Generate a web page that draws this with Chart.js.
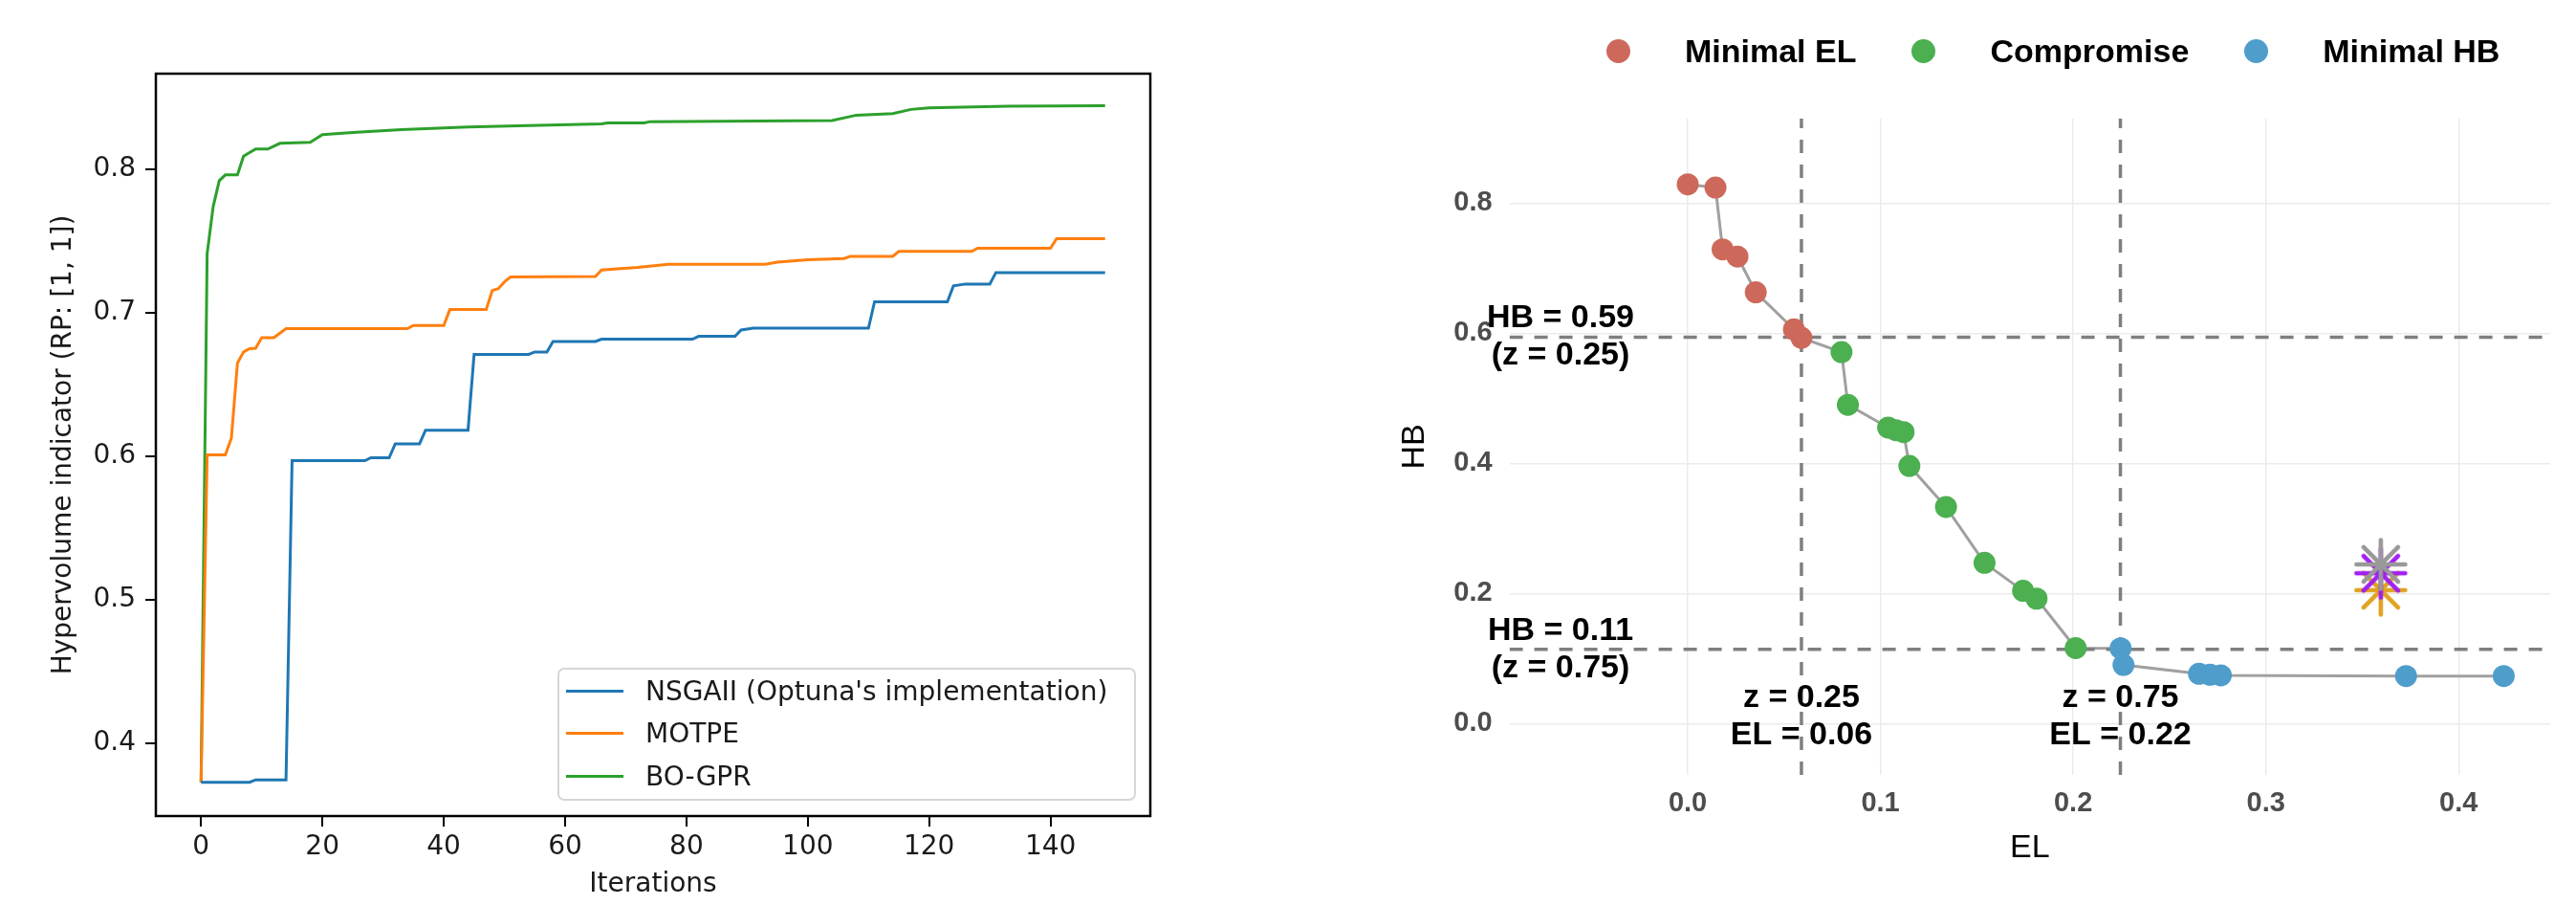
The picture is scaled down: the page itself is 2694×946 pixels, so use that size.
<!DOCTYPE html>
<html>
<head>
<meta charset="utf-8">
<script src="https://cdn.jsdelivr.net/npm/chart.js@4.4.1/dist/chart.umd.min.js"></script>
<style>
  html, body { margin: 0; padding: 0; background: #fff; }
  body { width: 2694px; height: 946px; position: relative; overflow: hidden; }
  #hvChart { position: absolute; left: 0; top: 0; }
  #paretoChart { position: absolute; left: 1400px; top: 0; }

  #hvLegend {
    position: absolute; left: 583px; top: 698px; width: 605px; height: 139px;
    box-sizing: border-box; border: 2px solid #d6d6d6; border-radius: 7px;
    background: rgba(255, 255, 255, 0.8);
    font-family: "DejaVu Sans", sans-serif; font-size: 28px; color: #1a1a1a;
  }
  #hvLegend .row { display: flex; align-items: center; height: 44.5px; white-space: nowrap; }
  #hvLegend .swatch { width: 60px; height: 3px; margin-left: 7px; }
  #hvLegend .text { margin-left: 23px; }

  #paretoLegend {
    position: absolute; left: 1680px; top: 33px; height: 40px;
    display: flex; align-items: center; white-space: nowrap;
    font-family: "Liberation Sans", Arial, sans-serif; font-weight: bold; font-size: 34px; color: #000;
  }
  #paretoLegend .dot { width: 25px; height: 25px; border-radius: 50%; }
  #paretoLegend .text { margin-left: 57px; margin-right: 58px; }
</style>
</head>
<body>
<canvas id="hvChart" width="1220" height="946"></canvas>
<div id="hvLegend"></div>
<canvas id="paretoChart" width="1294" height="946"></canvas>
<div id="paretoLegend"></div>

<script>
// ---- left panel: hypervolume vs. iteration (vertices of each curve) ----
const nsgaIter = [0, 8, 9, 14, 15, 27, 28, 31, 32, 36, 37, 44, 45, 54, 55, 57, 58, 65, 66, 81, 82, 88, 89, 91, 110, 111, 123, 124, 126, 130, 131, 149];
const nsgaHv = [0.373, 0.373, 0.3747, 0.3747, 0.597, 0.597, 0.599, 0.599, 0.6087, 0.6087, 0.6182, 0.6182, 0.671, 0.671, 0.6727, 0.6727, 0.680, 0.680, 0.6816, 0.6816, 0.6836, 0.6836, 0.688, 0.6893, 0.6893, 0.7076, 0.7076, 0.7187, 0.72, 0.72, 0.728, 0.728];

const motpeIter = [0, 1, 4, 5, 6, 7, 8, 9, 10, 12, 14, 34, 35, 40, 41, 47, 48, 49, 50, 51, 65, 66, 72, 77, 93, 95, 100, 106, 107, 114, 115, 127, 128, 140, 141, 149];
const motpeHv = [0.373, 0.601, 0.601, 0.6127, 0.665, 0.6727, 0.675, 0.6753, 0.6827, 0.6827, 0.6889, 0.6889, 0.6911, 0.6911, 0.7022, 0.7022, 0.7155, 0.7168, 0.7215, 0.7249, 0.7253, 0.7298, 0.7316, 0.7338, 0.7338, 0.7353, 0.7369, 0.7378, 0.7393, 0.7393, 0.7427, 0.7427, 0.7449, 0.7449, 0.7516, 0.7516];

const gprIter = [0, 1, 2, 3, 4, 6, 7, 9, 11, 13, 18, 20, 25, 33, 44, 54, 66, 67, 73, 74, 104, 108, 114, 117, 120, 133, 149];
const gprHv = [0.373, 0.741, 0.774, 0.792, 0.796, 0.796, 0.809, 0.814, 0.814, 0.818, 0.8187, 0.824, 0.8256, 0.8276, 0.8293, 0.8304, 0.8316, 0.8322, 0.8322, 0.8331, 0.8338, 0.8376, 0.8387, 0.8416, 0.8427, 0.8438, 0.8442];

// ---- right panel: Pareto front EL vs HB ----
const minElEL = [0.000, 0.0144, 0.0181, 0.0258, 0.0353, 0.0551, 0.059];
const minElHB = [0.829, 0.824, 0.729, 0.718, 0.663, 0.606, 0.593];
const compEL = [0.0798, 0.0831, 0.104, 0.108, 0.112, 0.115, 0.134, 0.154, 0.174, 0.181, 0.2013];
const compHB = [0.571, 0.490, 0.455, 0.451, 0.448, 0.396, 0.333, 0.247, 0.204, 0.192, 0.116];
const minHbEL = [0.2246, 0.2261, 0.2653, 0.271, 0.2766, 0.3727, 0.4234];
const minHbHB = [0.1156, 0.090, 0.0765, 0.075, 0.074, 0.073, 0.073];

const refEL = [0.3596, 0.3596, 0.3596];
const refHB = [0.205, 0.231, 0.2446];
const refColors = ["#E0A322", "#A020F0", "#999999"];

const zLevels = [0.25, 0.75];
const elCut = [0.059, 0.2245];
const hbCut = [0.594, 0.114];

const toPoints = (xs, ys) => xs.map((x, i) => ({ x, y: ys[i] }));

// matplotlib-like box around the plotting area
const axesFrame = {
  id: "axesFrame",
  afterDraw(chart) {
    const { ctx, chartArea: a } = chart;
    ctx.save();
    ctx.strokeStyle = "#000";
    ctx.lineWidth = 2.5;
    ctx.strokeRect(a.left, a.top, a.right - a.left, a.bottom - a.top);
    ctx.restore();
  },
};

const mplFont = { family: "'DejaVu Sans', sans-serif", size: 28 };

const hvChart = new Chart(document.getElementById("hvChart"), {
  type: "line",
  data: {
    datasets: [
      { label: "NSGAII (Optuna's implementation)", data: toPoints(nsgaIter, nsgaHv), borderColor: "#1f77b4" },
      { label: "MOTPE", data: toPoints(motpeIter, motpeHv), borderColor: "#ff7f0e" },
      { label: "BO-GPR", data: toPoints(gprIter, gprHv), borderColor: "#2ca02c" },
    ],
  },
  options: {
    responsive: false,
    animation: false,
    devicePixelRatio: 1,
    layout: { padding: { top: 77, right: 17, bottom: 0, left: 0 } },
    elements: { point: { radius: 0 }, line: { borderWidth: 3, tension: 0 } },
    plugins: { legend: { display: false }, tooltip: { enabled: false } },
    scales: {
      x: {
        type: "linear",
        min: -7.45,
        max: 156.45,
        afterFit: (s) => { s.height = 93; },
        border: { display: false },
        grid: { drawOnChartArea: false, tickLength: 11, color: "#000", lineWidth: 2 },
        ticks: { stepSize: 20, includeBounds: false, font: mplFont, color: "#1a1a1a", padding: 5, maxRotation: 0 },
        title: { display: true, text: "Iterations", font: mplFont, color: "#1a1a1a", padding: { top: 0, bottom: 4 } },
      },
      y: {
        min: 0.3495,
        max: 0.8665,
        afterFit: (s) => { s.width = 163; },
        border: { display: false },
        grid: { drawOnChartArea: false, tickLength: 11, color: "#000", lineWidth: 2 },
        ticks: { stepSize: 0.1, includeBounds: false, font: mplFont, color: "#1a1a1a", padding: 10, callback: (v) => v.toFixed(1) },
        title: { display: true, text: "Hypervolume indicator (RP: [1, 1])", font: mplFont, color: "#1a1a1a", padding: { top: 50, bottom: 0 } },
      },
    },
  },
  plugins: [axesFrame],
});

// labels for the quantile cut lines
const cutLabels = {
  id: "cutLabels",
  afterDatasetsDraw(chart, args, opts) {
    const { ctx, scales: { x, y } } = chart;
    const gap = opts.lineGap;
    ctx.save();
    ctx.font = "bold 34px 'Liberation Sans', Arial, sans-serif";
    ctx.fillStyle = "#000";
    ctx.textAlign = "center";
    ctx.textBaseline = "middle";
    hbCut.forEach((hb, i) => {
      const px = x.getPixelForValue(opts.hbLabelX);
      const py = y.getPixelForValue(hb);
      ctx.fillText(`HB = ${hb.toFixed(2)}`, px, py - gap / 2);
      ctx.fillText(`(z = ${zLevels[i].toFixed(2)})`, px, py + gap / 2);
    });
    elCut.forEach((el, i) => {
      const px = x.getPixelForValue(el);
      const py = y.getPixelForValue(opts.elLabelY);
      ctx.fillText(`z = ${zLevels[i].toFixed(2)}`, px, py - gap / 2);
      ctx.fillText(`EL = ${el.toFixed(2)}`, px, py + gap / 2);
    });
    ctx.restore();
  },
};

// ggplot-style asterisk (shape 8) with round line ends, used as a point style
function asterisk(color, r, lw) {
  const size = Math.ceil(2 * r + lw + 2);
  const c = document.createElement("canvas");
  c.width = size;
  c.height = size;
  const g = c.getContext("2d");
  g.strokeStyle = color;
  g.lineWidth = lw;
  g.lineCap = "round";
  g.translate(size / 2, size / 2);
  for (let k = 0; k < 4; k++) {
    const a = (k * Math.PI) / 4;
    g.beginPath();
    g.moveTo(-r * Math.cos(a), -r * Math.sin(a));
    g.lineTo(r * Math.cos(a), r * Math.sin(a));
    g.stroke();
  }
  return c;
}

const X_MIN = -0.0925, X_MAX = 0.4475, Y_MIN = -0.079, Y_MAX = 0.93;
const cutStyle = { type: "line", borderColor: "#7f7f7f", borderWidth: 3.5, borderDash: [14, 12], pointRadius: 0, order: 5, inLegend: false };
const ggTick = { family: "'Liberation Sans', Arial, sans-serif", size: 29, weight: "bold" };
const ggTitle = { family: "'Liberation Sans', Arial, sans-serif", size: 34 };

const frontPoints = (label, xs, ys, color) => ({
  label, data: toPoints(xs, ys), backgroundColor: color, borderColor: color,
  pointRadius: 11.5, pointHoverRadius: 11.5, pointBorderWidth: 0, order: 4,
});

const paretoChart = new Chart(document.getElementById("paretoChart"), {
  type: "scatter",
  data: {
    datasets: [
      {
        type: "line", label: "front",
        data: toPoints([...minElEL, ...compEL, ...minHbEL], [...minElHB, ...compHB, ...minHbHB]),
        borderColor: "#a0a0a0", borderWidth: 3, pointRadius: 0, order: 6, inLegend: false,
      },
      ...elCut.map((el) => ({ ...cutStyle, label: "EL cut", data: [{ x: el, y: Y_MIN }, { x: el, y: Y_MAX }] })),
      ...hbCut.map((hb) => ({ ...cutStyle, label: "HB cut", data: [{ x: X_MIN, y: hb }, { x: X_MAX, y: hb }] })),
      frontPoints("Minimal EL", minElEL, minElHB, "#CD695B"),
      frontPoints("Compromise", compEL, compHB, "#4CAF50"),
      frontPoints("Minimal HB", minHbEL, minHbHB, "#4F9DCB"),
      ...refColors.map((c, i) => ({
        label: "reference", data: [{ x: refEL[i], y: refHB[i] }], inLegend: false,
        pointStyle: asterisk(c, 25.5, 4.6), pointRadius: 26, pointHoverRadius: 26, order: 3 - i,
      })),
    ],
  },
  options: {
    responsive: false,
    animation: false,
    devicePixelRatio: 1,
    layout: { padding: { top: 124, right: 21, bottom: 0, left: 0 } },
    plugins: {
      legend: { display: false },
      tooltip: { enabled: false },
      cutLabels: { hbLabelX: -0.066, elLabelY: 0.011, lineGap: 39 },
    },
    scales: {
      x: {
        type: "linear", min: X_MIN, max: X_MAX,
        afterFit: (s) => { s.height = 136; },
        border: { display: false },
        grid: { color: "#ebebeb", lineWidth: 1.5, drawTicks: false },
        ticks: { stepSize: 0.1, includeBounds: false, font: ggTick, color: "#4d4d4d", padding: 13, maxRotation: 0, callback: (v) => v.toFixed(1) },
        title: { display: true, text: "EL", font: ggTitle, color: "#000", padding: { top: 0, bottom: 38.6 } },
      },
      y: {
        min: Y_MIN, max: Y_MAX,
        afterFit: (s) => { s.width = 178.6; },
        border: { display: false },
        grid: { color: "#ebebeb", lineWidth: 1.5, drawTicks: false },
        ticks: { stepSize: 0.2, includeBounds: false, font: ggTick, color: "#4d4d4d", padding: 18, callback: (v) => v.toFixed(1) },
        title: { display: true, text: "HB", font: ggTitle, color: "#000", padding: { top: 59.6, bottom: 0 } },
      },
    },
  },
  plugins: [cutLabels],
});

// HTML legends built from the charts' datasets
hvChart.data.datasets.forEach((ds) => {
  const row = document.createElement("div");
  row.className = "row";
  row.innerHTML = `<span class="swatch" style="background:${ds.borderColor}"></span><span class="text"></span>`;
  row.querySelector(".text").textContent = ds.label;
  document.getElementById("hvLegend").appendChild(row);
});

paretoChart.data.datasets.filter((ds) => ds.inLegend !== false).forEach((ds) => {
  const dot = document.createElement("span");
  dot.className = "dot";
  dot.style.background = ds.backgroundColor;
  const text = document.createElement("span");
  text.className = "text";
  text.textContent = ds.label;
  document.getElementById("paretoLegend").append(dot, text);
});
</script>
</body>
</html>
